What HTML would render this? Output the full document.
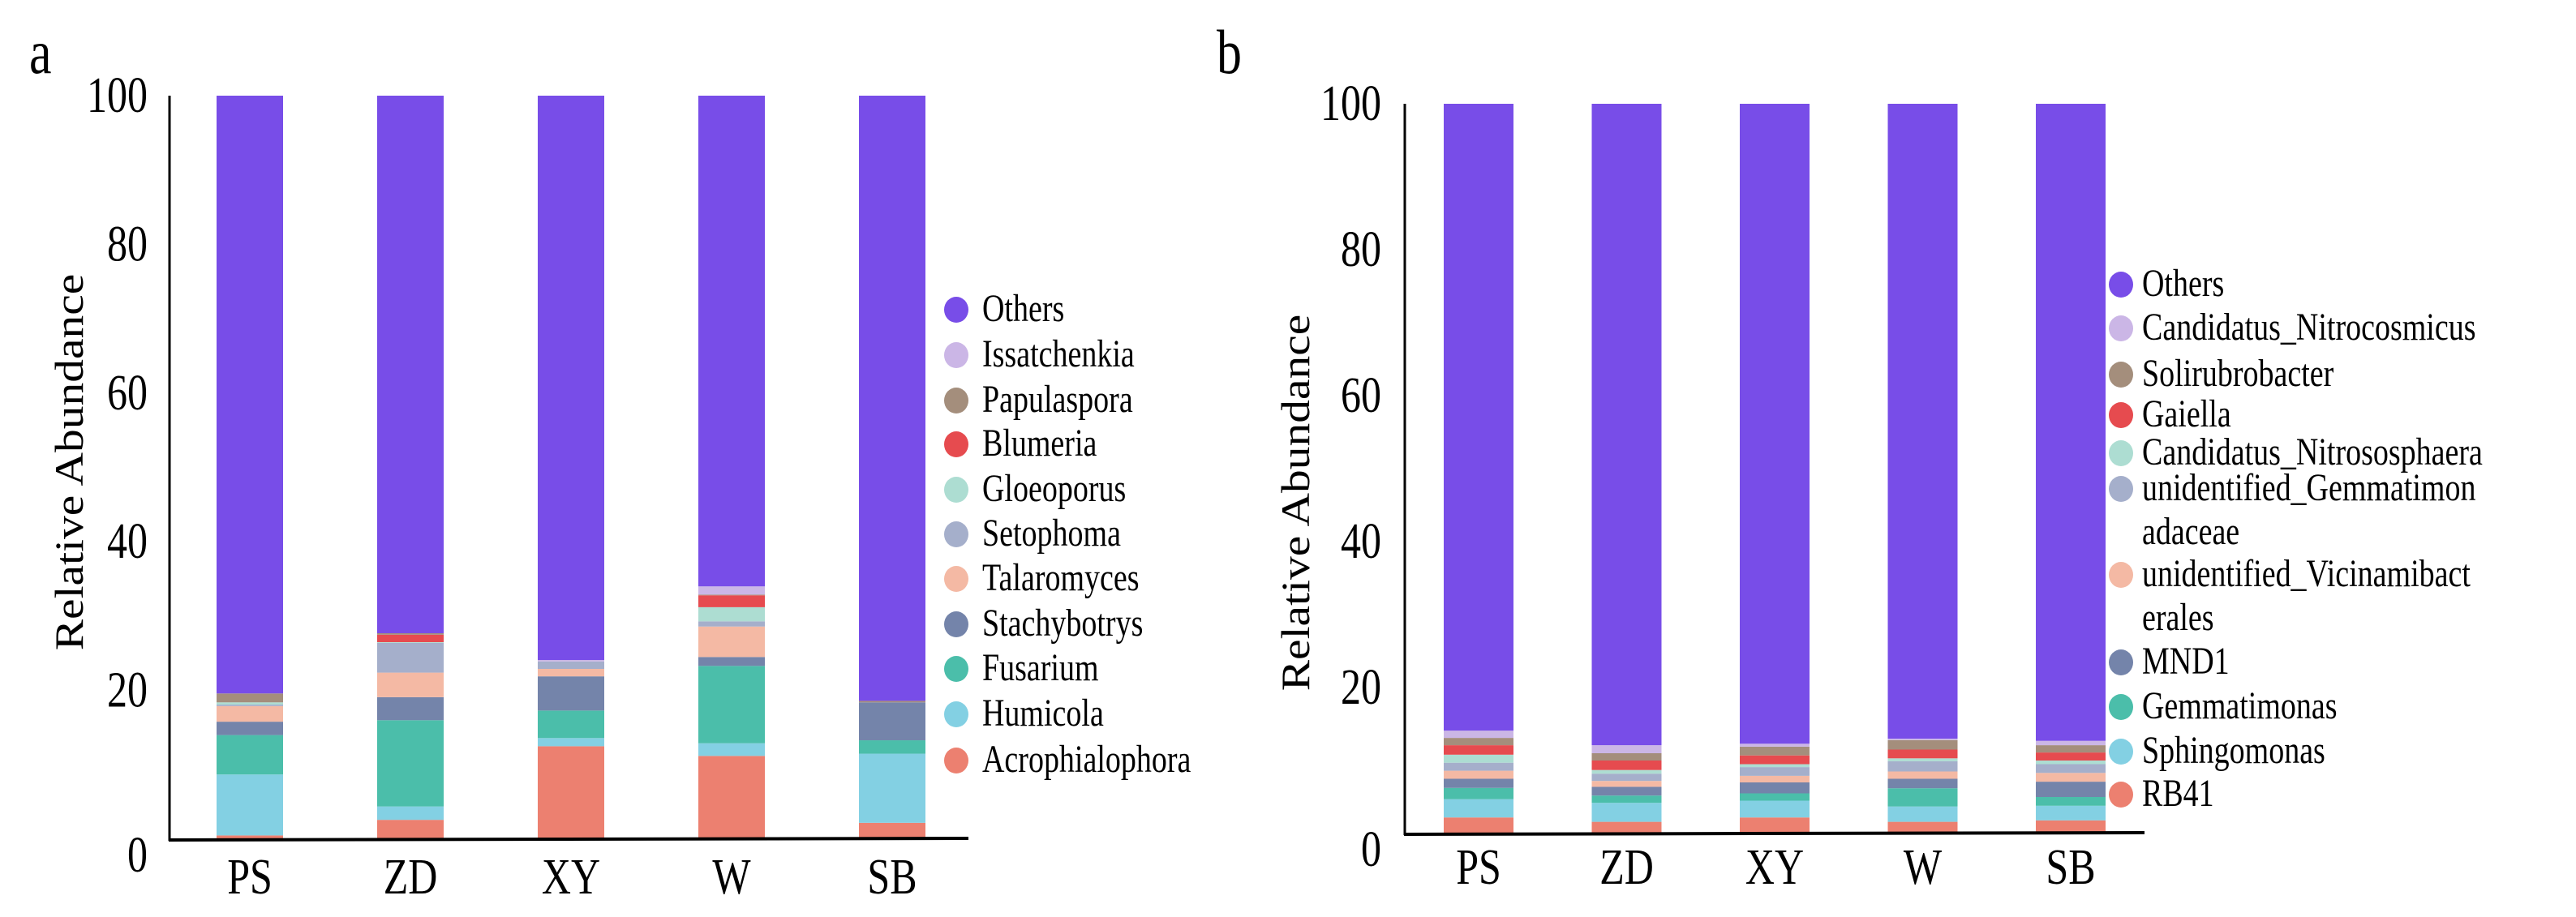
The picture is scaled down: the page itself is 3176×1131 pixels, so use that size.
<!DOCTYPE html>
<html><head><meta charset="utf-8"><style>
html,body{margin:0;padding:0;background:#fff;}
svg{display:block;font-family:"Liberation Serif","DejaVu Serif",serif;}
text{font-family:"Liberation Serif","DejaVu Serif",serif;}
</style></head><body>
<svg id="chart" width="3176" height="1131" viewBox="0 0 3176 1131" xmlns="http://www.w3.org/2000/svg"></svg>
<script>
const categories = ["PS","ZD","XY","W","SB"];
const yTicks = [0,20,40,60,80,100];
const seriesA = ["Acrophialophora","Humicola","Fusarium","Stachybotrys","Talaromyces","Setophoma","Gloeoporus","Blumeria","Papulaspora","Issatchenkia"];
const colorsA = ["#EC8070","#83D0E3","#4BBEAA","#7484AA","#F4B9A4","#A5AFCB","#ADDDD2","#E64B4F","#A48E7C","#CBB6E6"];
const valuesA_PS = [0.5,8.2,5.3,1.8,2.1,0.2,0.3,0,1.2,0];
const valuesA_ZD = [2.6,1.8,11.6,3.1,3.3,4.0,0.1,1.0,0.2,0];
const valuesA_XY = [12.5,1.1,3.7,4.6,1.0,1.0,0,0,0,0.2];
const valuesA_W  = [11.2,1.7,10.4,1.2,4.1,0.7,1.9,1.6,0.1,1.1];
const valuesA_SB = [2.2,9.3,1.8,5.1,0,0,0,0,0.2,0];
const seriesB = ["RB41","Sphingomonas","Gemmatimonas","MND1","unidentified_Vicinamibacterales","unidentified_Gemmatimonadaceae","Candidatus_Nitrososphaera","Gaiella","Solirubrobacter","Candidatus_Nitrocosmicus"];
const colorsB = colorsA;
const valuesB_PS = [2.2,2.5,1.55,1.25,1.1,1.1,1.1,1.3,1.0,1.0];
const valuesB_ZD = [1.6,2.6,1.0,1.2,0.8,1.0,0.5,1.3,1.0,1.1];
const valuesB_XY = [2.2,2.3,1.0,1.5,0.9,1.2,0.4,1.2,1.2,0.4];
const valuesB_W  = [1.6,2.1,2.5,1.3,1.0,1.4,0.4,1.2,1.3,0.2];
const valuesB_SB = [1.8,2.0,1.2,2.1,1.2,1.2,0.5,1.1,1.0,0.6];
const othersColor = "#784DE8";

const NS="http://www.w3.org/2000/svg";
const svg=document.getElementById('chart');
const FF='"Liberation Serif","DejaVu Serif",serif';
function el(tag,attrs,parent){const e=document.createElementNS(NS,tag);for(const k in attrs)e.setAttribute(k,attrs[k]);(parent||svg).appendChild(e);return e;}
function txt(parent,x,y,size,str,anchor,sy){
  const t=el('text',{x:0,y:0,'font-size':size,'font-family':FF,'text-anchor':anchor||'start',transform:`translate(${x},${y}) scale(1,${sy||1.2})`},parent);
  t.textContent=str;return t;
}

function drawChart(cfg){
  const g=el('g',{});
  
  
  const y=v=>cfg.y0+(cfg.y100-cfg.y0)*v/100;
  const x=i=>cfg.bar0+i*cfg.step;
  const L=txt(g,cfg.letterX,cfg.letterY,62,cfg.letter,'start',1.25);
  
  
  cfg.values.forEach((vals,i)=>{
    let acc=0;
    vals.forEach((v,j)=>{
      if(v<=0)return;
      const r=el('rect',{x:x(i),y:y(acc+v),width:cfg.bw,height:y(acc)-y(acc+v),fill:cfg.colors[j]},g);
      
      
      acc+=v;
    });
    const r=el('rect',{x:x(i),y:y(100),width:cfg.bw,height:y(acc)-y(100),fill:othersColor},g);
    
    
    const t=txt(g,x(i)+cfg.bw/2,cfg.xlabY,50,categories[i],'middle',1.25);
    
    
  });
  const ya=el('line',{x1:cfg.axisX,y1:y(100),x2:cfg.axisX,y2:y(0)+2,stroke:'#000','stroke-width':3},g);
  
  
  const xa=el('line',{x1:cfg.axisX-1,y1:y(0)+1,x2:cfg.axisEnd,y2:y(0)-1,stroke:'#000','stroke-width':4},g);
  
  
  yTicks.forEach(v=>{
    const t=txt(g,cfg.tickRight,y(v)+20+(v===0?20:0),50,String(v),'end',1.25);
    
    
  });
  const ty=el('text',{x:0,y:0,'font-size':50,'font-family':FF,'text-anchor':'middle',transform:`translate(${cfg.titleX},${cfg.titleY}) rotate(-90) scale(1.15,1)`},g);
  ty.textContent='Relative Abundance';
  
  
  cfg.legend.forEach((item,k)=>{
    const c=el('ellipse',{cx:cfg.legCX,cy:item.y,rx:15,ry:16,fill:item.color},g);
    
    
    item.lines.forEach((ln,m)=>{
      const t=txt(g,cfg.legTX,item.y+14+m*54,38,ln,'start',1.25);
      
      
    });
  });
}

const legA=[{color:othersColor,lines:["Others"]}].concat(seriesA.slice().reverse().map((s,i)=>({color:colorsA[seriesA.length-1-i],lines:[s]})));
const legAY=[382,438,494,548,604,659,714,770,825,881,938];
legA.forEach((it,i)=>it.y=legAY[i]);
drawChart({name:'chart-a',letter:'a',letterX:36,letterY:90,y0:1035,y100:118,bar0:267,step:198,bw:82,xlabY:1102,axisX:209,axisEnd:1194,tickRight:182,titleX:102,titleY:570,values:[valuesA_PS,valuesA_ZD,valuesA_XY,valuesA_W,valuesA_SB],colors:colorsA,legCX:1179,legTX:1211,legend:legA});

const legBNames=[["Others"],["Candidatus_Nitrocosmicus"],["Solirubrobacter"],["Gaiella"],["Candidatus_Nitrososphaera"],["unidentified_Gemmatimon","adaceae"],["unidentified_Vicinamibact","erales"],["MND1"],["Gemmatimonas"],["Sphingomonas"],["RB41"]];
const legBY=[351,405,462,512,559,603,709,817,872,927,980];
const legBColors=[othersColor].concat(colorsB.slice().reverse());
const legB=legBNames.map((l,i)=>({lines:l,y:legBY[i],color:legBColors[i]}));
drawChart({name:'chart-b',letter:'b',letterX:1500,letterY:90,y0:1028,y100:128,bar0:1780,step:182.5,bw:86,xlabY:1090,axisX:1732,axisEnd:2644,tickRight:1703,titleX:1614,titleY:620,values:[valuesB_PS,valuesB_ZD,valuesB_XY,valuesB_W,valuesB_SB],colors:colorsB,legCX:2615,legTX:2641,legend:legB});
</script>
</body></html>
